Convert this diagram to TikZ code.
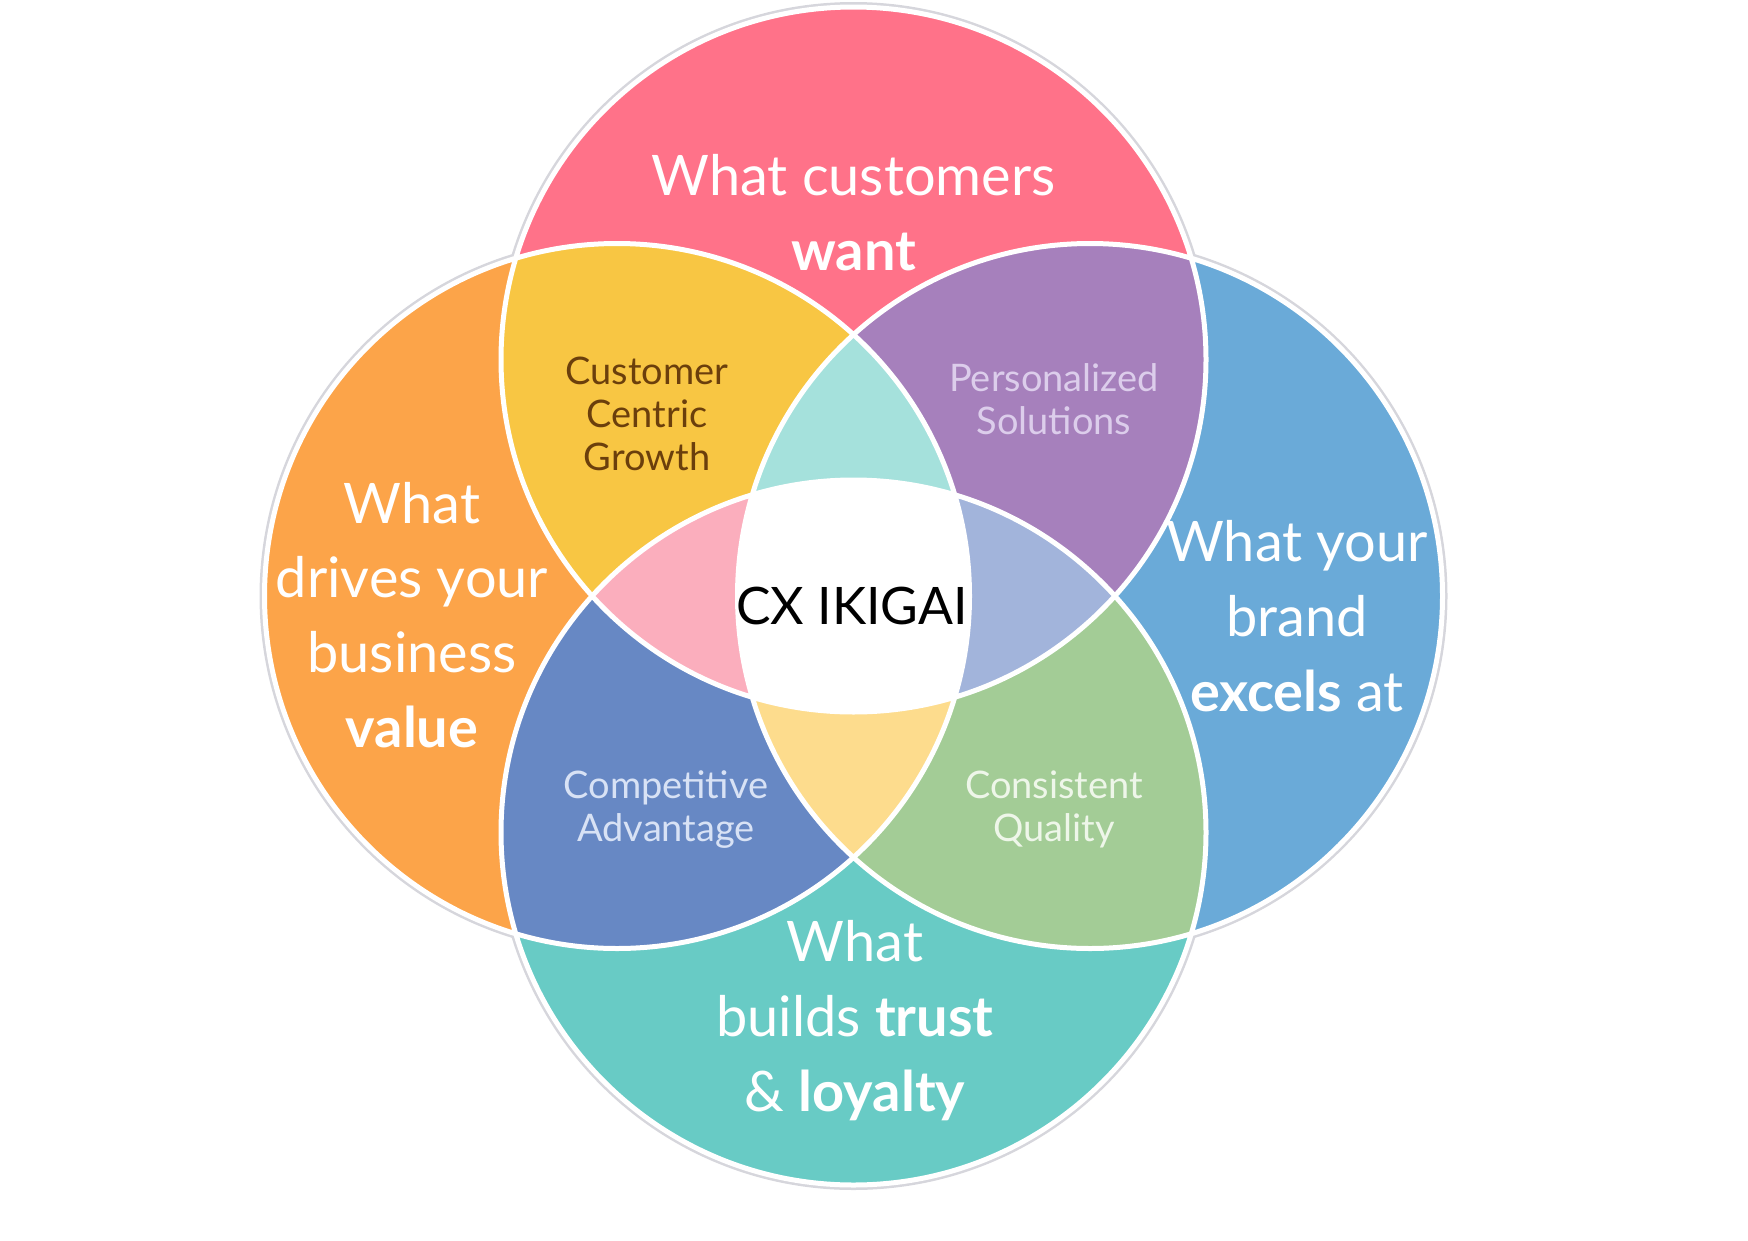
\documentclass[tikz,border=0pt]{standalone}
\usepackage{fontspec}
\setmainfont{Lato}
\usetikzlibrary{positioning}

\definecolor{cT}{HTML}{FF7289}
\definecolor{cL}{HTML}{FCA449}
\definecolor{cR}{HTML}{6AAAD8}
\definecolor{cB}{HTML}{68CBC5}
\definecolor{cTL}{HTML}{F8C643}
\definecolor{cTR}{HTML}{A680BC}
\definecolor{cBL}{HTML}{6788C4}
\definecolor{cBR}{HTML}{A3CC96}
\definecolor{cTLR}{HTML}{A5E1DC}
\definecolor{cTLB}{HTML}{FBAEBD}
\definecolor{cTRB}{HTML}{A2B4DB}
\definecolor{cBLR}{HTML}{FDDC8D}
\definecolor{brownish}{HTML}{6B3F0C}
\definecolor{lavender}{HTML}{DCCDEB}
\definecolor{paleblue}{HTML}{D8E2F5}
\definecolor{palegreen}{HTML}{EEF6E9}
\definecolor{rim}{HTML}{D6D6DC}

\newcommand{\ring}[1]{(#1) circle[radius=35.25mm]}

\begin{document}
\begin{tikzpicture}[x=0.1mm,y=-0.1mm,
	big/.style={text=white,font=\fontsize{15.9}{21.2}\selectfont,align=center,anchor=base,inner sep=0pt},
	small/.style={font=\fontsize{10.8}{12.1}\selectfont,align=center,anchor=base,inner sep=0pt}]
		\useasboundingbox (0,0) rectangle (1748,1240);
		\coordinate (T) at (853.5,359.5);
		\coordinate (L) at (617,596);
		\coordinate (R) at (1090,596);
		\coordinate (B) at (853.5,832.5);
		
		% faint rim round the outside
		\foreach \c in {T,L,R,B}
			\draw[rim,line width=0.3mm] (\c) circle[radius=35.6mm];
		
		\fill[cT] \ring{T};
		\fill[cL] \ring{L};
		\fill[cR] \ring{R};
		\fill[cB] \ring{B};
		
		\begin{scope}
			\clip \ring{T};
			\fill[cTL] \ring{L};
			\fill[cTR] \ring{R};
		\end{scope}
		\begin{scope}
			\clip \ring{B};
			\fill[cBL] \ring{L};
			\fill[cBR] \ring{R};
		\end{scope}
		\begin{scope}
			\clip \ring{L};
			\clip \ring{R};
			\fill[cTLR] \ring{T};
			\fill[cBLR] \ring{B};
		\end{scope}
		\begin{scope}
			\clip \ring{T};
			\clip \ring{B};
			\fill[cTLB] \ring{L};
			\fill[cTRB] \ring{R};
		\end{scope}
		\begin{scope}
			\clip \ring{T};
			\clip \ring{B};
			\clip \ring{L};
			\fill[white] \ring{R};
		\end{scope}
		
		\draw[white,line width=0.5mm] \ring{T} \ring{L} \ring{R} \ring{B};
		
		% base anchor = baseline of the last line
		\node[big] (want) at (853.5,270) {What customers\\\textbf{want}};
		\node[big] (value) at (412,747) {What\\drives your\\business\\\textbf{value}};
		\node[big] (excels) at (1297,711) {What your\\brand\\\textbf{excels} at};
		\node[big] (trust) at (855,1111) {What\\builds \textbf{trust}\\\& \textbf{loyalty}};
		
		\node[small,text=brownish] (growth) at (647,470) {Customer\\Centric\\Growth};
		\node[small,text=lavender] (personal) at (1054,434) {Personalized\\Solutions};
		\node[small,text=paleblue] (compete) at (666,841) {Competitive\\Advantage};
		\node[small,text=palegreen] (quality) at (1054,841) {Consistent\\Quality};
		
		\node[anchor=base,inner sep=0pt,font=\fontsize{14.7}{18}\selectfont] (ikigai) at (852,624) {CX IKIGAI};
	\end{tikzpicture}
\end{document}
